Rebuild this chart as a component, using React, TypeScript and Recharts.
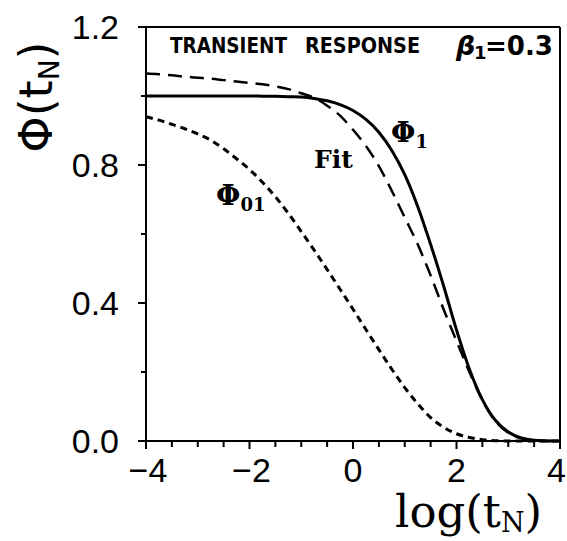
import { CartesianGrid, Customized, Line, LineChart, ReferenceLine, XAxis, YAxis } from "recharts";

const logT = [
  -4, -3.75, -3.5, -3.25, -3, -2.75, -2.5, -2.25, -2, -1.75, -1.5, -1.25, -1, -0.75, -0.5, -0.25, 0, 0.25, 0.5,
  0.75, 1, 1.25, 1.5, 1.75, 2, 2.25, 2.5, 2.75, 3, 3.25, 3.5, 3.75, 4,
];
const phi1 = [
  1, 1, 1, 1, 1, 1, 1, 1, 1, 0.9995, 0.999, 0.998, 0.997, 0.993, 0.986, 0.975, 0.958, 0.932, 0.895, 0.842, 0.772,
  0.68, 0.57, 0.45, 0.322, 0.208, 0.12, 0.06, 0.026, 0.009, 0.002, 0, 0,
];
const fit = [
  1.065, 1.063, 1.06, 1.056, 1.053, 1.05, 1.046, 1.042, 1.038, 1.034, 1.028, 1.02, 1.008, 0.995, 0.972, 0.943, 0.902,
  0.855, 0.797, 0.725, 0.648, 0.57, 0.48, 0.382, 0.29, 0.2, 0.118, 0.058, 0.024, 0.008, 0.002, 0, 0,
];
const phi01 = [
  0.94, 0.93, 0.918, 0.905, 0.89, 0.872, 0.847, 0.818, 0.787, 0.75, 0.708, 0.66, 0.607, 0.553, 0.497, 0.44, 0.382,
  0.323, 0.265, 0.208, 0.155, 0.108, 0.068, 0.04, 0.021, 0.01, 0.004, 0.001, 0, 0, 0, 0, 0,
];

const xTicks = [-4, -3.5, -3, -2.5, -2, -1.5, -1, -0.5, 0, 0.5, 1, 1.5, 2, 2.5, 3, 3.5, 4];
const yTicks = [0, 0.2, 0.4, 0.6, 0.8, 1.0, 1.2];
const xLabels: Record<string, string> = { "-4": "\u22124", "-2": "\u22122", "0": "0", "2": "2", "4": "4" };
const yLabels: Record<string, string> = { "0": "0.0", "0.4": "0.4", "0.8": "0.8", "1.2": "1.2" };

const data = logT.map((x, i) => ({ x, phi1: phi1[i], fit: fit[i], phi01: phi01[i] }));

const LEFT = 146;
const BOTTOM = 441;
const SANS = "'Liberation Sans', Arial, sans-serif";
const BOLD = "'DejaVu Sans', sans-serif";
const SERIF = "'DejaVu Serif', serif";

function YTick(props: any) {
  const { y, payload } = props;
  const label = yLabels[String(payload.value)];
  return (
    <g>
      <line x1={LEFT - (label ? 8 : 5)} x2={LEFT} y1={y} y2={y} stroke="#000" strokeWidth={2} />
      {label && (
        <text x={119} y={y + 12} textAnchor="end" fontSize={34} fontFamily={SANS} fill="#000">
          {label}
        </text>
      )}
    </g>
  );
}

function XTick(props: any) {
  const { x, payload } = props;
  const label = xLabels[String(payload.value)];
  const last = payload.value === 4;
  return (
    <g>
      <line x1={x} x2={x} y1={BOTTOM} y2={BOTTOM + (label ? 8 : 6)} stroke="#000" strokeWidth={2} />
      {label && (
        <text
          x={last ? 566 : x + (payload.value < 0 ? 2 : 0)}
          y={482}
          textAnchor={last ? "end" : "middle"}
          fontSize={34}
          fontFamily={SANS}
          fill="#000"
        >
          {label}
        </text>
      )}
    </g>
  );
}

function Notes() {
  return (
    <g fill="#000">
      <text x={170} y={53} fontSize={22} fontWeight="bold" fontFamily={BOLD} textLength={117} lengthAdjust="spacingAndGlyphs">
        TRANSIENT
      </text>
      <text x={305} y={53} fontSize={22} fontWeight="bold" fontFamily={BOLD} textLength={115} lengthAdjust="spacingAndGlyphs">
        RESPONSE
      </text>
      <text x={456} y={55} fontSize={27} fontWeight="bold" fontStyle="italic" fontFamily={BOLD}>
        β
      </text>
      <text x={474} y={59} fontSize={18} fontWeight="bold" fontFamily={BOLD}>
        1
      </text>
      <text x={485} y={55} fontSize={27} fontWeight="bold" fontFamily={BOLD} textLength={68} lengthAdjust="spacingAndGlyphs">
        =0.3
      </text>
      <text x={391} y={142} fontSize={28} fontWeight="bold" fontFamily={SERIF}>
        Φ<tspan fontSize={18} dy={6}>1</tspan>
      </text>
      <text x={314} y={168} fontSize={25} fontWeight="bold" fontFamily={SERIF}>
        Fit
      </text>
      <text x={216} y={205} fontSize={28} fontWeight="bold" fontFamily={SERIF}>
        Φ<tspan fontSize={18} dy={6}>01</tspan>
      </text>
      <text transform="translate(52, 97) rotate(-90)" textAnchor="middle" fontSize={46} fontFamily={BOLD}>
        Φ(t<tspan fontSize={28} dy={7}>N</tspan>
        <tspan dy={-7}>)</tspan>
      </text>
      <text x={395} y={527} fontSize={45} fontFamily={SERIF}>
        log(t<tspan fontSize={27} dy={5}>N</tspan>
        <tspan dy={-5}>)</tspan>
      </text>
    </g>
  );
}

export default function App() {
  return (
    <div style={{ position: "absolute", left: 0, top: 0, background: "#fff" }}>
      <LineChart width={567} height={541} data={data} margin={{ top: 27, right: 7, bottom: 0, left: 0 }}>
        <CartesianGrid stroke="none" />
        <XAxis
          dataKey="x"
          type="number"
          domain={[-4, 4]}
          ticks={xTicks}
          interval={0}
          height={100}
          axisLine={{ stroke: "#000", strokeWidth: 2 }}
          tickLine={false}
          tick={<XTick />}
        />
        <YAxis
          type="number"
          domain={[0, 1.2]}
          ticks={yTicks}
          interval={0}
          width={146}
          axisLine={{ stroke: "#000", strokeWidth: 2 }}
          tickLine={false}
          tick={<YTick />}
        />
        <ReferenceLine y={1.2} stroke="#000" strokeWidth={2} />
        <ReferenceLine x={4} stroke="#000" strokeWidth={2} />
        <Line dataKey="phi01" type="monotone" stroke="#000" strokeWidth={3} strokeDasharray="7 5" dot={false} isAnimationActive={false} />
        <Line dataKey="fit" type="monotone" stroke="#000" strokeWidth={2.5} strokeDasharray="14 8" dot={false} isAnimationActive={false} />
        <Line dataKey="phi1" type="monotone" stroke="#000" strokeWidth={3} dot={false} isAnimationActive={false} />
        <Customized component={<Notes />} />
      </LineChart>
    </div>
  );
}
